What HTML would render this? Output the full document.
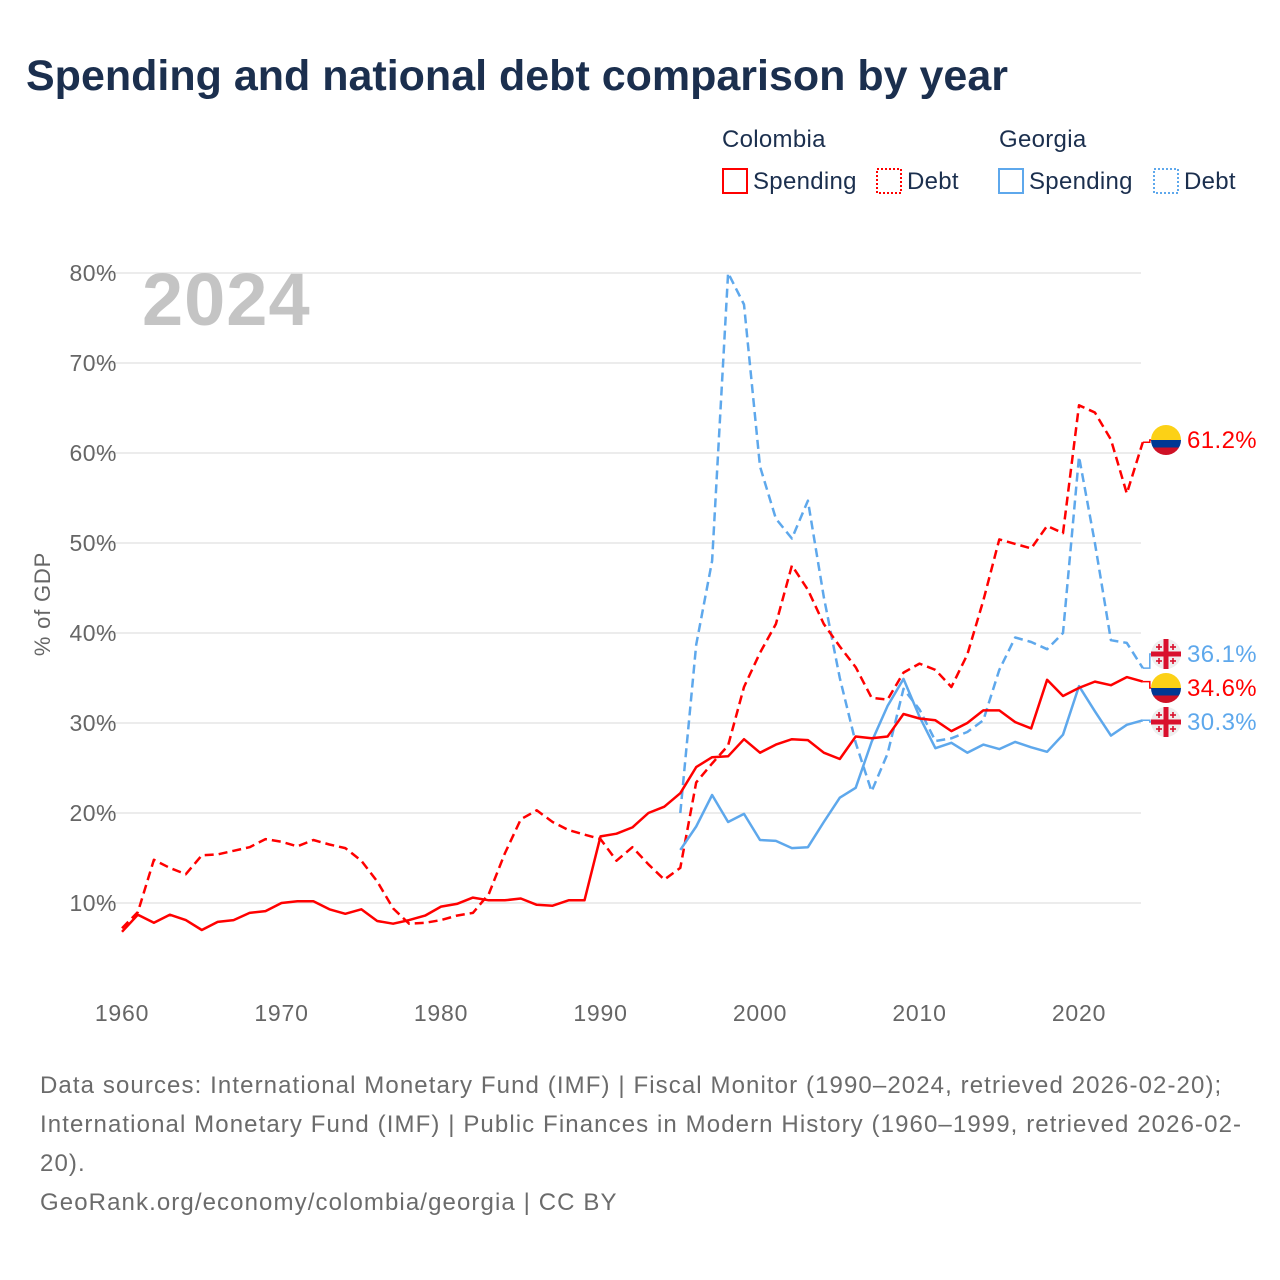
<!DOCTYPE html>
<html><head><meta charset="utf-8"><style>
body{margin:0;background:#fff;font-family:"Liberation Sans",sans-serif;}
#wrap{position:relative;width:1280px;height:1280px;overflow:hidden;}
.t{position:absolute;white-space:nowrap;}
</style></head><body>
<div id="wrap">
<div class="t" style="left:26px;top:52px;font-size:43px;font-weight:bold;color:#1b2f4e;">Spending and national debt comparison by year</div>
<svg id="chart" width="1280" height="1280" style="position:absolute;left:0;top:0"></svg>
<div class="t" style="left:40px;top:1066px;font-size:24px;letter-spacing:1.1px;line-height:39px;color:#6b6b6b;">Data sources: International Monetary Fund (IMF) | Fiscal Monitor (1990–2024, retrieved 2026-02-20);<br>International Monetary Fund (IMF) | Public Finances in Modern History (1960–1999, retrieved 2026-02-<br>20).<br>GeoRank.org/economy/colombia/georgia | CC BY</div>
</div>
<script>
const colYears=[];for(let y=1960;y<=2024;y++)colYears.push(y);
const geoYears=[];for(let y=1995;y<=2024;y++)geoYears.push(y);
const colSpending=[6.8,8.7,7.8,8.7,8.1,7.0,7.9,8.1,8.9,9.1,10.0,10.2,10.2,9.3,8.8,9.3,8.0,7.7,8.1,8.6,9.6,9.9,10.6,10.3,10.3,10.5,9.8,9.7,10.3,10.3,17.4,17.7,18.4,20.0,20.7,22.2,25.1,26.2,26.3,28.2,26.7,27.6,28.2,28.1,26.7,26.0,28.5,28.3,28.5,31.0,30.5,30.3,29.1,30.0,31.4,31.4,30.1,29.4,34.8,33.0,33.9,34.6,34.2,35.1,34.6];
const colDebt=[7.2,9.0,14.8,13.9,13.2,15.3,15.4,15.8,16.2,17.1,16.8,16.3,17.0,16.5,16.1,14.7,12.4,9.4,7.7,7.8,8.1,8.6,8.9,11.0,15.5,19.3,20.3,19.0,18.1,17.6,17.1,14.7,16.2,14.3,12.6,13.9,23.4,25.5,27.5,34.0,37.8,41.0,47.5,44.8,41.0,38.5,36.2,32.8,32.6,35.6,36.6,35.9,34.0,37.6,43.6,50.4,49.9,49.4,51.9,51.1,65.3,64.5,61.5,55.5,61.2];
const geoSpending=[15.9,18.5,22.0,19.0,19.9,17.0,16.9,16.1,16.2,19.0,21.7,22.8,27.9,31.9,34.9,30.7,27.2,27.8,26.7,27.6,27.1,27.9,27.3,26.8,28.7,34.1,31.3,28.6,29.8,30.3];
const geoDebt=[20.0,38.7,48.0,80.0,76.5,58.5,52.7,50.5,54.7,44.0,35.0,27.8,22.4,26.6,33.8,31.5,28.0,28.3,29.0,30.3,35.9,39.5,39.0,38.2,40.0,59.6,50.0,39.2,38.9,36.1];
const yTicks=[10,20,30,40,50,60,70,80];
const xTicks=[1960,1970,1980,1990,2000,2010,2020];

const NS="http://www.w3.org/2000/svg";
const svg=document.getElementById('chart');
const X=y=>122+(y-1960)*15.95;
const Y=v=>993-v*9;
function el(t,a,txt){const e=document.createElementNS(NS,t);for(const k in a)e.setAttribute(k,a[k]);if(txt!==undefined)e.textContent=txt;svg.appendChild(e);return e;}
const RED="#ff0000",BLUE="#5ea8ec";
yTicks.forEach(v=>{
 const g=el('line',{x1:95,x2:1141,y1:Y(v),y2:Y(v),stroke:'#e6e6e6','stroke-width':1.5});
 
 
 const t=el('text',{x:117,y:Y(v)+8,'text-anchor':'end','font-size':23,'letter-spacing':0.5,fill:'#666','font-family':'Liberation Sans'},v+'%');
 
 
});
xTicks.forEach(v=>{
 const t=el('text',{x:X(v),y:1021,'text-anchor':'middle','font-size':23,'letter-spacing':0.8,fill:'#666','font-family':'Liberation Sans'},v);
 
 
});
const yt=el('text',{x:0,y:0,transform:'translate(50,604) rotate(-90)','text-anchor':'middle','font-size':22,'letter-spacing':0.8,fill:'#666','font-family':'Liberation Sans'},'% of GDP');


const yr=el('text',{x:142,y:325,'font-size':74,'font-weight':'bold','letter-spacing':1,fill:'#c4c4c4','font-family':'Liberation Sans'},'2024');


function series(years,vals,color,dash,name){
 const d=vals.map((v,i)=>(i?'L':'M')+X(years[i]).toFixed(1)+' '+Y(v).toFixed(1)).join(' ');
 const p=el('path',{d:d,fill:'none',stroke:color,'stroke-width':2.5,'stroke-dasharray':dash||'none','stroke-linejoin':'round'});
 
 
}
series(geoYears,geoDebt,BLUE,'9,5','georgia-debt-line');
series(colYears,colDebt,RED,'9,5','colombia-debt-line');
series(geoYears,geoSpending,BLUE,null,'georgia-spending-line');
series(colYears,colSpending,RED,null,'colombia-spending-line');
const lx=X(2024);
function endLabel(val,ly,color,country,name){
 const vy=Y(val);
 const c=el('path',{d:`M${lx} ${vy} L${lx+7} ${vy} L${lx+7} ${ly} L${lx+12} ${ly}`,fill:'none',stroke:color,'stroke-width':1.5});
 
 
 const cx=1166;
 if(country==='co'){
  const cp=el('clipPath',{id:'cp'+ly});
  const cc=document.createElementNS(NS,'circle');cc.setAttribute('cx',cx);cc.setAttribute('cy',ly);cc.setAttribute('r',15);cp.appendChild(cc);
  const g=el('g',{'clip-path':`url(#cp${ly})`});
  
  
  [['#fcd116',ly-15,15],['#003893',ly,7.5],['#ce1126',ly+7.5,7.5]].forEach(s=>{const r=document.createElementNS(NS,'rect');r.setAttribute('x',cx-15);r.setAttribute('y',s[1]);r.setAttribute('width',30);r.setAttribute('height',s[2]);r.setAttribute('fill',s[0]);g.appendChild(r);});
 }else{
  const f=el('circle',{cx:cx,cy:ly,r:15,fill:'#eee'});
  
  
  el('rect',{x:cx-2.5,y:ly-15,width:5,height:30,fill:'#d9102d'});
  el('rect',{x:cx-15,y:ly-2.5,width:30,height:5,fill:'#d9102d'});
  [[-7,-7],[7,-7],[-7,7],[7,7]].forEach(o=>{el('rect',{x:cx+o[0]-3,y:ly+o[1]-0.8,width:6,height:1.6,fill:'#d9102d'});el('rect',{x:cx+o[0]-0.8,y:ly+o[1]-3,width:1.6,height:6,fill:'#d9102d'});});
 }
 const t=el('text',{x:1187,y:ly+8,'font-size':24,'letter-spacing':0.4,fill:color,'font-family':'Liberation Sans'},val.toFixed(1)+'%');
 
 
}
endLabel(colDebt[colDebt.length-1],440,RED,'co','colombia-debt-end');
endLabel(geoDebt[geoDebt.length-1],654,BLUE,'ge','georgia-debt-end');
endLabel(colSpending[colSpending.length-1],688,RED,'co','colombia-spending-end');
endLabel(geoSpending[geoSpending.length-1],722,BLUE,'ge','georgia-spending-end');
function legTxt(x,y,s,name,color){const t=el('text',{x:x,y:y,'font-size':24,'letter-spacing':0.3,fill:color||'#1b2f4e','font-family':'Liberation Sans'},s);}
legTxt(722,147,'Colombia','legend-colombia-header');
legTxt(999,147,'Georgia','legend-georgia-header');
function legItem(x,color,dash,label,name){
 const r=el('rect',{x:x,y:169,width:24,height:24,fill:'none',stroke:color,'stroke-width':2,'stroke-dasharray':dash||'none'});
 
 
 legTxt(x+30,189,label,name+'-label');
}
legItem(723,RED,null,'Spending','legend-colombia-spending');
legItem(877,RED,'2,2','Debt','legend-colombia-debt');
legItem(999,BLUE,null,'Spending','legend-georgia-spending');
legItem(1154,BLUE,'2,2','Debt','legend-georgia-debt');
</script>
</body></html>
